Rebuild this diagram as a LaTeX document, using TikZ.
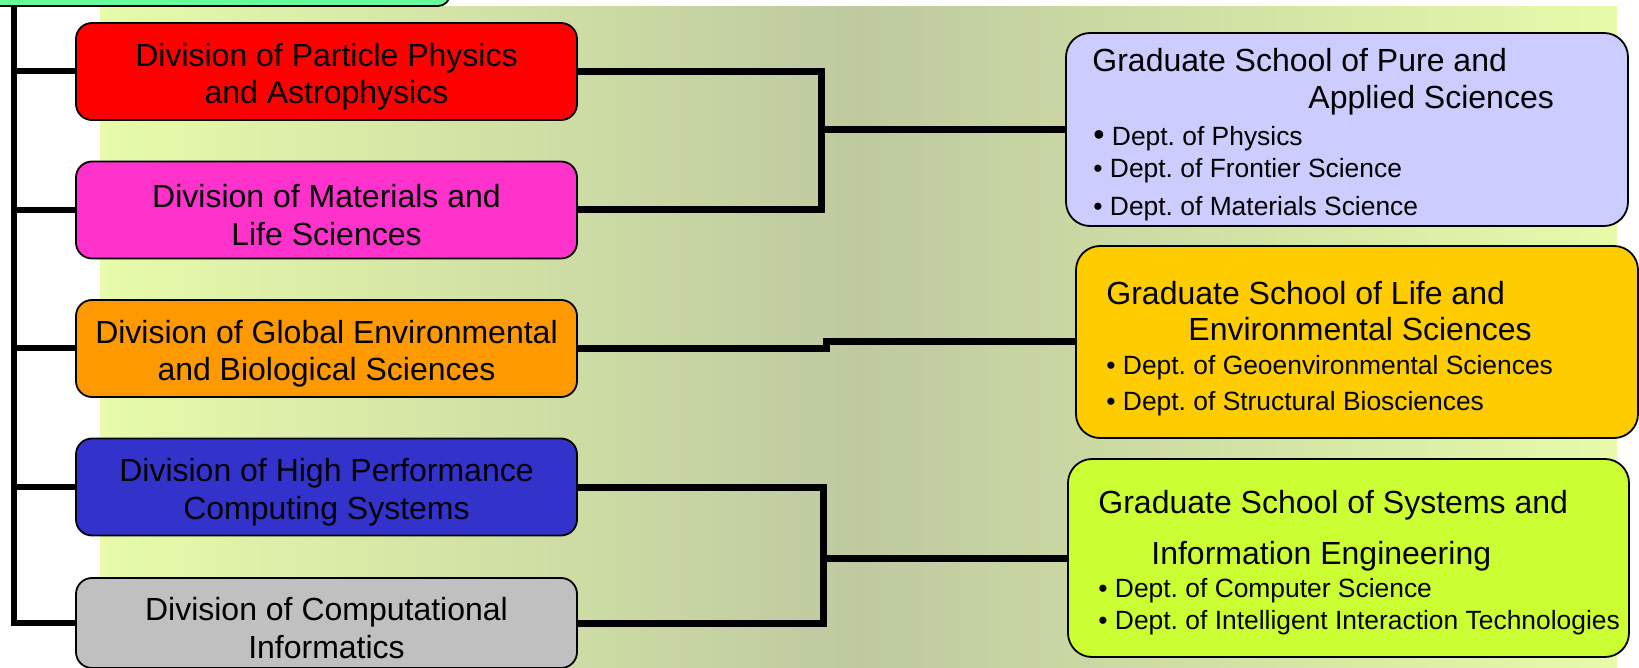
\documentclass[tikz,border=0pt]{standalone}
\usepackage{fontspec}
\setmainfont{Liberation Sans}
\frenchspacing
\definecolor{bgL}{RGB}{231,251,170}
\definecolor{bgM}{RGB}{190,201,160}
\definecolor{cRed}{RGB}{255,0,0}
\definecolor{cMag}{RGB}{255,51,204}
\definecolor{cOra}{RGB}{255,153,0}
\definecolor{cBlu}{RGB}{51,51,204}
\definecolor{cGry}{RGB}{192,192,192}
\definecolor{cPur}{RGB}{204,204,255}
\definecolor{cYel}{RGB}{255,204,0}
\definecolor{cLim}{RGB}{204,255,51}
\definecolor{cTop}{RGB}{102,255,153}
\pgfdeclarehorizontalshading{bgshade}{100bp}{color(0bp)=(bgL); color(25bp)=(bgL); color(50bp)=(bgM); color(75bp)=(bgL); color(100bp)=(bgL)}
\newcommand{\tstr}{\rule{0pt}{16.8pt}}
\begin{document}
\begin{tikzpicture}[x=0.5pt,y=-0.5pt,
  divbox/.style={draw=black, line width=0.9pt, rounded corners=8pt, minimum width=250.5pt, minimum height=48.5pt, align=center, inner sep=0pt, font=\fontsize{16}{18.8}\selectfont},
  gradbox/.style={draw=black, line width=0.9pt, rounded corners=12pt, inner sep=0pt},
  ttl/.style={anchor=base west, inner sep=0pt, font=\fontsize{16}{18.8}\selectfont},
  dept/.style={anchor=base west, inner sep=0pt, font=\fontsize{13.2}{15}\selectfont},
  tree/.style={line width=3pt},
  conn/.style={line width=3.5pt}
]
\useasboundingbox (0,0) rectangle (1639,668);
\clip (0,0) rectangle (1639,668);
\fill[white] (0,0) rectangle (1639,668);
\shade[shading=bgshade] (100,7) rectangle (1617,668);

% top (cut-off) box
\node[draw=black, line width=0.9pt, fill=cTop, rounded corners=6pt, minimum width=240pt, minimum height=23pt, inner sep=0pt] (top) at (210,-17) {};

% divisions
\node[divbox, fill=cRed] (red) at (326.5,71.5) {\tstr Division of Particle Physics\\and Astrophysics};
\node[divbox, fill=cMag] (mag) at (326.5,210) {\tstr Division of Materials and\\Life Sciences};
\node[divbox, fill=cOra] (ora) at (326.5,348.5) {\tstr Division of Global Environmental\\and Biological Sciences};
\node[divbox, fill=cBlu] (blu) at (326.5,487) {\tstr Division of High Performance\\Computing Systems};
\node[divbox, fill=cGry, minimum height=45pt] (gry) at (326.5,623) {\tstr Division of Computational\\Informatics};

% graduate schools
\node[gradbox, fill=cPur, minimum width=281pt, minimum height=96.5pt] (pur) at (1347,129.5) {};
\node[gradbox, fill=cYel, minimum width=281pt, minimum height=96pt] (yel) at (1357,342) {};
\node[gradbox, fill=cLim, minimum width=280.5pt, minimum height=99pt] (lim) at (1348.5,558) {};

\node[ttl] (p1) at (1092,71.5) {Graduate School of Pure and};
\node[ttl] (p2) at (1308,108.5) {Applied Sciences};
\node[dept] (p3) at (1093,145.5) {{\fontsize{16}{16}\selectfont •} Dept. of Physics};
\node[dept] (p4) at (1093,177.5) {• Dept. of Frontier Science};
\node[dept] (p5) at (1093,215.5) {• Dept. of Materials Science};

\node[ttl] (y1) at (1106,304.5) {Graduate School of Life and};
\node[ttl] (y2) at (1188,340.5) {Environmental Sciences};
\node[dept] (y3) at (1106,374.5) {• Dept. of Geoenvironmental Sciences};
\node[dept] (y4) at (1106,410.5) {• Dept. of Structural Biosciences};

\node[ttl] (l1) at (1098,513.5) {Graduate School of Systems and};
\node[ttl] (l2) at (1151,564.5) {Information Engineering};
\node[dept] (l3) at (1098,597.5) {• Dept. of Computer Science};
\node[dept] (l4) at (1098,629.5) {• Dept. of Intelligent Interaction Technologies};

% left tree
\coordinate (vtop) at (14,6);
\draw[tree] (vtop) |- (gry.west);
\draw[tree] (vtop |- red.west) -- (red.west);
\draw[tree] (vtop |- mag.west) -- (mag.west);
\draw[tree] (vtop |- ora.west) -- (ora.west);
\draw[tree] (vtop |- blu.west) -- (blu.west);

% right connectors
\coordinate (b1) at (821,129.5);
\draw[conn] (red.east) -| (b1) |- (mag.east);
\draw[conn] (b1) -- (pur.west);
\coordinate (j1) at (826,348.5);
\draw[conn] (ora.east) -- (j1) |- (yel.west);
\coordinate (b2) at (823,558);
\draw[conn] (blu.east) -| (b2) |- (gry.east);
\draw[conn] (b2) -- (lim.west);
\end{tikzpicture}
\end{document}
